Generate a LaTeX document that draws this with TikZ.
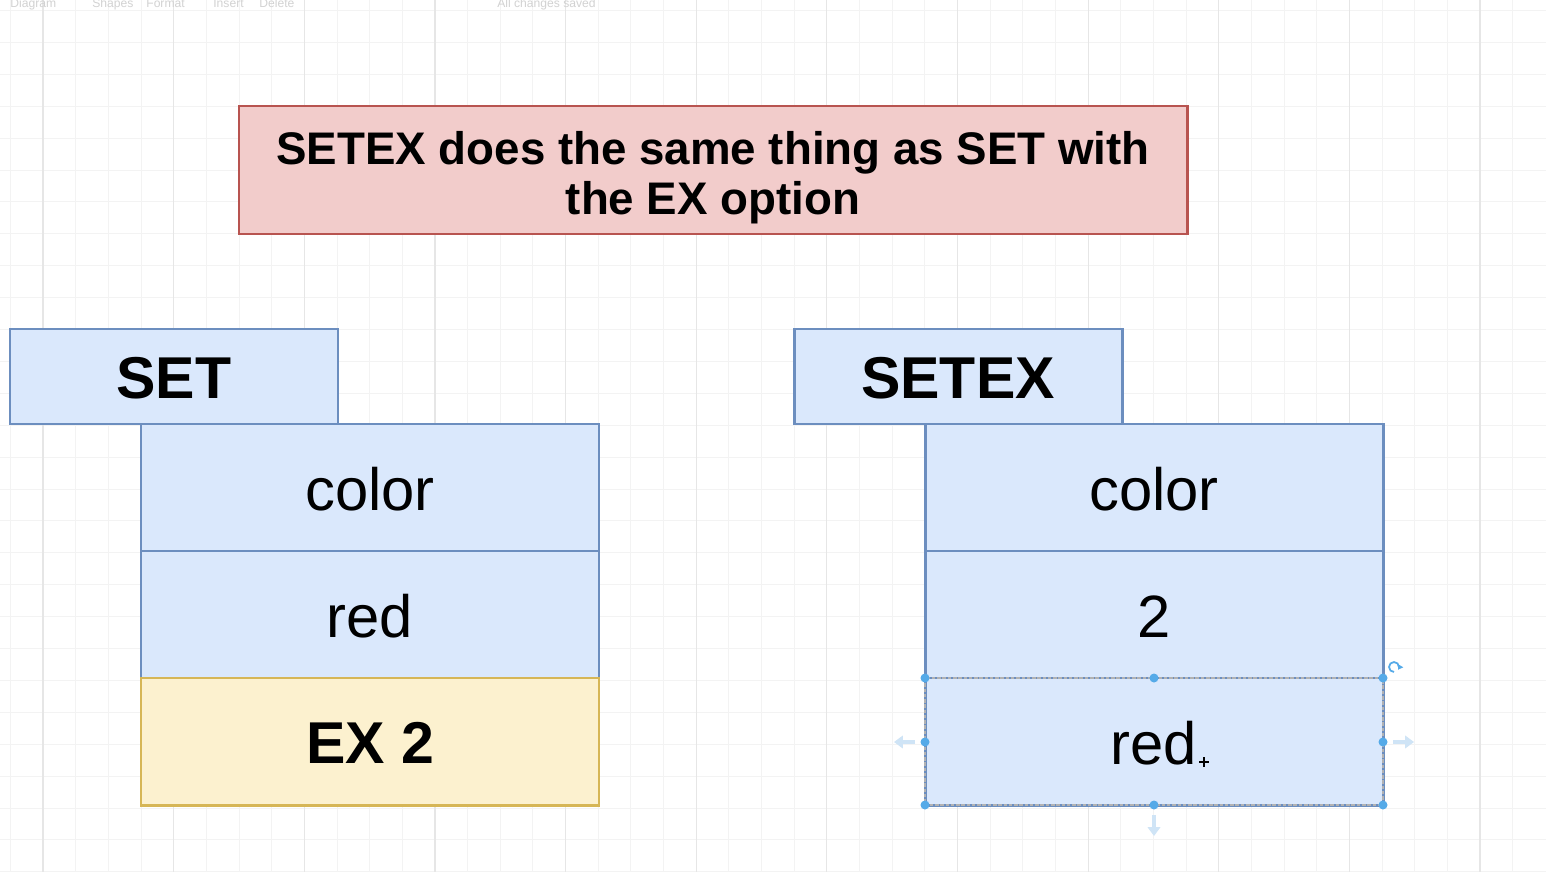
\documentclass[tikz,border=0pt]{standalone}
\usepackage{xcolor}
\usepackage{fontspec}
\setmainfont{Liberation Sans}
\usetikzlibrary{arrows.meta}

\definecolor{gridminor}{HTML}{F3F3F3}
\definecolor{gridmajor}{HTML}{E6E6E6}
\definecolor{toolgray}{HTML}{D2D2D2}
\definecolor{notefill}{HTML}{F2CCCB}
\definecolor{noteline}{HTML}{B85450}
\definecolor{cellfill}{HTML}{DAE8FC}
\definecolor{cellline}{HTML}{6C8EBF}
\definecolor{expfill}{HTML}{FCF1CF}
\definecolor{expline}{HTML}{D6B656}
\definecolor{handle}{HTML}{55AAE8}
\definecolor{hint}{HTML}{CFE4F6}

\begin{document}
\begin{tikzpicture}[x=0.02cm,y=-0.02cm,
    notebox/.style={draw=noteline,fill=notefill,line width=1.7pt},
    headbox/.style={draw=cellline,fill=cellfill,line width=1.7pt},
    cellbox/.style={draw=cellline,fill=cellfill,line width=1.7pt},
    expbox/.style={draw=expline,fill=expfill,line width=1.7pt},
    bigbold/.style={font=\fontsize{33.6}{36}\selectfont\bfseries,yshift=-1pt},
    bigtext/.style={font=\fontsize{34}{36}\selectfont,yshift=-1.2pt},
    tooltext/.style={anchor=base west,text=toolgray,font=\fontsize{6.9}{8}\selectfont,inner sep=0pt},
    dot/.style={fill=handle,draw=none},
    hintarrow/.style={hint,line width=2pt,-{Triangle[length=5pt,width=7pt]}}]
    \useasboundingbox (0,0) rectangle (1546,872);
    \fill[white] (0,0) rectangle (1546,872);

    % Grid
    \foreach \i in {-1,...,45}
        \draw[gridminor,line width=0.5pt] ({43+32.66*\i},0) -- ({43+32.66*\i},872);
    \foreach \j in {0,...,27}
        \draw[gridminor,line width=0.5pt] (0,{10.5+31.9*\j}) -- (1546,{10.5+31.9*\j});
    \foreach \i in {0,...,11}
        \draw[gridmajor,line width=0.7pt] ({43+130.64*\i},0) -- ({43+130.64*\i},872);

    % Toolbar
    \node[tooltext] (tbDiagram) at (10,8) {Diagram};
    \node[tooltext] (tbShapes) at (92,8) {Shapes};
    \node[tooltext] (tbFormat) at (146,8) {Format};
    \node[tooltext] (tbInsert) at (213,8) {Insert};
    \node[tooltext] (tbDelete) at (259,8) {Delete};
    \node[tooltext] (tbSaved) at (497,8) {All changes saved};

    % Note
    \draw[notebox] (239,106) rectangle (1187,234)
        node[midway,align=center,yshift=-4.5pt,font=\fontsize{26}{28.4}\selectfont\bfseries] (note)
        {SETEX does the same thing as SET with\\the EX option};

    % SET side
    \draw[headbox] (10,329) rectangle (338,424) node[midway,bigbold] (setHead) {SET};
    \draw[cellbox] (141,424) rectangle (599,551) node[midway,bigtext] (lKey) {color};
    \draw[cellbox] (141,551) rectangle (599,678) node[midway,bigtext] (lVal) {red};
    \draw[expbox] (141,678) rectangle (599,805) node[midway,bigbold] (lExp) {EX 2};

    % SETEX side
    \draw[headbox] (794,329) rectangle (1122,424) node[midway,bigbold] (setexHead) {SETEX};
    \draw[cellbox] (925,424) rectangle (1383,551) node[midway,bigtext] (rKey) {color};
    \draw[cellbox] (925,551) rectangle (1383,678) node[midway,bigtext] (rTtl) {2};
    \draw[cellbox] (925,678) rectangle (1383,805) node[midway,bigtext] (rVal) {red};

    % Selection of the last cell
    \draw[gray!60,line width=0.6pt,dash pattern=on 2pt off 1pt] (925,678) rectangle (1383,805);
    \foreach \px/\py in {925/678,1154/678,1383/678,925/742,1383/742,925/805,1154/805,1383/805}
        \fill[dot] (\px,\py) circle (4.5);
    \draw[hintarrow] (915,742) -- (894,742);
    \draw[hintarrow] (1393,742) -- (1414,742);
    \draw[hintarrow] (1154,815) -- (1154,836);
    \draw[handle,line width=1pt,-{Triangle[length=2.5pt,width=3.5pt]}] (1394,672) arc (90:390:5);
    \draw[black,line width=0.9pt] (1199,762) -- (1209,762) (1204,757) -- (1204,767);
\end{tikzpicture}
\end{document}
